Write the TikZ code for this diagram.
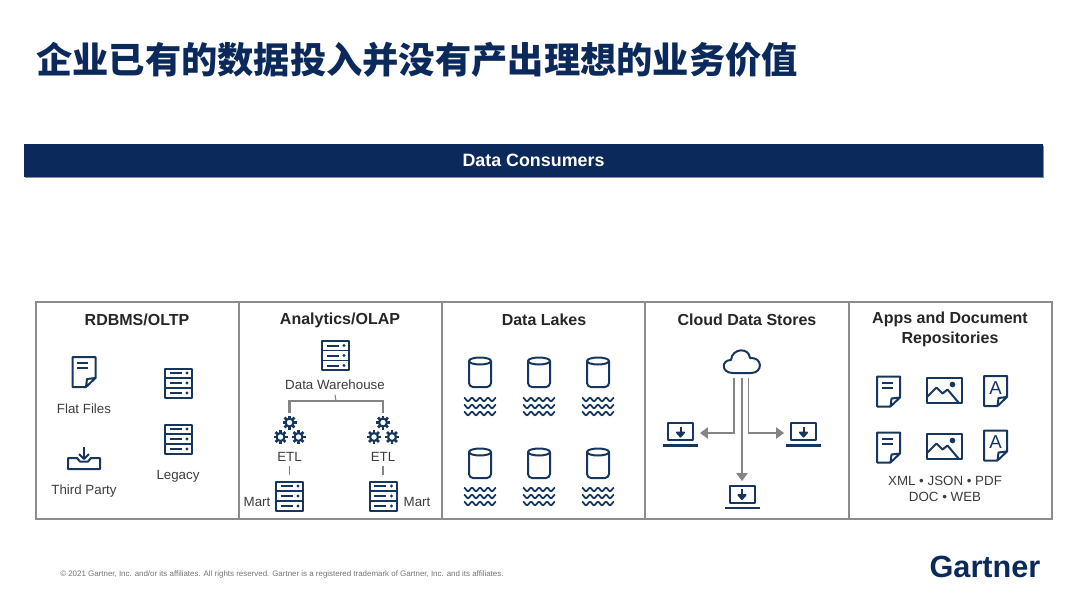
\documentclass[tikz,border=0pt]{standalone}
\usepackage{fontspec}
\setmainfont{Liberation Sans}
\newfontfamily\cjk{Noto Sans CJK SC}
\usetikzlibrary{arrows.meta}

\definecolor{navy}{HTML}{0B2A5B}
\definecolor{ink}{HTML}{17365F}
\definecolor{rim}{HTML}{8C8C8C}
\definecolor{wire}{HTML}{858585}
\definecolor{note}{HTML}{3C3C3C}

\tikzset{
  panel/.style={draw=rim, line width=1.3pt, minimum width=152.6pt, minimum height=162.75pt, inner sep=0pt},
  head/.style={font=\fontsize{12}{14.6}\selectfont\bfseries, text=black!85, align=center},
  lab/.style={font=\fontsize{10}{12}\selectfont, text=note, align=center},
  spot/.style={inner sep=0pt, minimum size=4pt},
  icon/.style={draw=ink, line width=1.5pt, line join=round},
  wireline/.style={draw=wire, line width=.8pt},
  feed/.style={draw=wire, line width=.9pt, -{Triangle[length=6pt,width=8.5pt]}},
  server/.pic={
    \draw[icon] (-13.5,-14.5) rectangle (13.5,14.5);
    \draw[icon, line width=1.3pt] (-13.5,-5) -- (13.5,-5);
    \draw[icon, line width=1.3pt] (-13.5,5) -- (13.5,5);
    \foreach \r in {-10,0,10} {
      \draw[icon] (-9,\r) -- (3,\r);
      \fill[ink] (8.5,\r) circle (1.7);
    }
  },
  docpage/.pic={
    \draw[icon] (2,15) -- (-11.5,15) -- (-11.5,-15) -- (11.5,-15) -- (11.5,6) -- (2,15) -- (3,7) -- (11.5,6);
  },
  docfile/.pic={
    \pic {docpage};
    \draw[icon] (-7,-9) -- (4,-9);
    \draw[icon] (-7,-4) -- (4,-4);
  },
  docfont/.pic={
    \pic {docpage};
    \node[font=\fontsize{14}{14}\selectfont, text=ink, inner sep=0pt] (glyph) at (0,-3) {A};
  },
  photo/.pic={
    \draw[icon] (-17.5,-12.5) rectangle (17.5,12.5);
    \draw[icon] (-17,6) -- (-8,-3) -- (-2,3) -- (3,-1) -- (14,12);
    \fill[ink] (8,-6) circle (2.8);
  },
  tray/.pic={
    \draw[icon] (-16,0) -- (-7,0) -- (-4,3.5) -- (4,3.5) -- (7,0) -- (16,0) -- (16,11) -- (-16,11) -- cycle;
    \draw[icon] (0,-11) -- (0,1);
    \draw[icon] (-5,-4) -- (0,1) -- (5,-4);
  },
  gearset/.pic={
    \foreach \gx/\gy in {0/-7.5, -9/7, 9/7} {
      \draw[icon, line width=1.6pt] (\gx,\gy) circle (4);
      \foreach \a in {0,45,...,315}
        \draw[icon, line width=2pt] ([shift={(\gx,\gy)}]\a:4.5) -- ([shift={(\gx,\gy)}]\a:7);
    }
  },
  barrel/.pic={
    \draw[icon] (0,-11) ellipse [x radius=11, y radius=3.5];
    \draw[icon, rounded corners=3pt] (-11,-11) -- (-11,15) -- (11,15) -- (11,-11);
  },
  waves/.pic={
    \foreach \w in {-7,0,7}
      \draw[icon, line width=1.3pt] plot[domain=-16:16, samples=49, smooth] (\x,{\w-1.7*cos(\x*45)});
  },
  cloudy/.pic={
    \draw[icon] (-9,11) .. controls (-21,11) and (-21,-2) .. (-11,-2)
      .. controls (-10,-14) and (7,-15) .. (8,-4)
      .. controls (21,-5) and (21,11) .. (9,11) -- cycle;
  },
  laptop/.pic={
    \draw[icon] (-12.5,-11.5) rectangle (12.5,5.5);
    \draw[icon, line width=1.9pt] (-17.5,11) -- (17.5,11);
    \draw[icon] (0,-8) -- (0,1);
    \draw[icon, fill=ink] (-3.5,-2) -- (0,2) -- (3.5,-2) -- cycle;
  },
}

\begin{document}
\begin{tikzpicture}[x=.75pt, y=-.75pt]
\useasboundingbox (0,0) rectangle (1080,596);

\node[font=\cjk\fontsize{27.2}{30}\selectfont\bfseries, text=navy, anchor=west, inner sep=0pt] (T) at (36,60) {企业已有的数据投入并没有产出理想的业务价值};

\fill[black!45] (25,146) rectangle (1044,178);
\node[fill=navy, minimum width=764.25pt, minimum height=24.75pt, inner sep=0pt, font=\fontsize{13.4}{16}\selectfont\bfseries, text=white] (B) at (533.5,160.5) {\raisebox{-.5pt}{Data Consumers}};

% panels
\node[panel] (P1) at (137.5,410.5) {};
\node[panel] (P2) at (340.5,410.5) {};
\node[panel] (P3) at (543.5,410.5) {};
\node[panel] (P4) at (747,410.5) {};
\node[panel] (P5) at (950.5,410.5) {};

\node[head] (H1) at (137,320) {RDBMS/OLTP};
\node[head] (H2) at (340,320) {Analytics/OLAP};
\node[head] (H3) at (544,320) {Data Lakes};
\node[head] (H4) at (747,320) {Cloud Data Stores};
\node[head] (H5) at (950,329.5) {Apps and Document\\Repositories};

% sources
\pic at (84,372) {docfile};
\pic at (178.5,383) {server};
\pic at (178.5,439) {server};
\pic at (84,458) {tray};
\node[lab] (L1) at (84,409) {Flat Files};
\node[lab] (L2) at (84,491.5) {Third Party};
\node[lab] (L3) at (178,476) {Legacy};

% warehouse
\pic at (335.5,355.5) {server};
\pic at (289.5,430) {gearset};
\pic at (383,430) {gearset};
\pic at (289.5,496) {server};
\pic at (383,496) {server};
\node[lab] (W) at (335,385) {Data Warehouse};
\node[lab] (E1) at (289.5,457) {ETL};
\node[lab] (E2) at (383,457) {ETL};
\node[lab] (M1) at (257,502) {Mart};
\node[lab] (M2) at (417,502) {Mart};
\node[spot] (G1) at (289.5,416) {};
\node[spot] (G2) at (383,416) {};
\node[spot] (S1) at (289.5,478) {};
\node[spot] (S2) at (383,478) {};
\coordinate (J) at (336,401);

\draw[wireline] (W.south) -- (J);
\draw[wireline, line width=1.8pt] (G1.north) |- (J) -| (G2.north);
\draw[wireline] (E1.south) -- (S1.north);
\draw[wireline] (E2.south) -- (S2.north);

% lakes
\foreach \cx in {480,539,598} {
  \pic at (\cx,372) {barrel};
  \pic at (\cx,406.5) {waves};
  \pic at (\cx,463) {barrel};
  \pic at (\cx,496.5) {waves};
}

% cloud
\pic at (742,362) {cloudy};
\pic at (680.5,434.5) {laptop};
\pic at (803.5,434.5) {laptop};
\pic at (742,497) {laptop};
\node[spot] (C) at (742,375) {};
\node[spot] (N1) at (697,433) {};
\node[spot] (N2) at (787,433) {};
\node[spot] (N3) at (742,484) {};

\draw[feed] ([xshift=-6pt]C.south) |- (N1.east);
\draw[feed] ([xshift=5pt]C.south) |- (N2.west);
\draw[feed] (C.south) -- (N3.north);

% documents
\pic at (888.5,391.5) {docfile};
\pic at (888.5,447.5) {docfile};
\pic at (944.5,390.5) {photo};
\pic at (944.5,446.5) {photo};
\pic at (995.5,391) {docfont};
\pic at (995.5,445.5) {docfont};
\node[lab] (D) at (945,489) {XML • JSON • PDF\\DOC • WEB};

\node[font=\fontsize{5.95}{7}\selectfont, text=black!55, anchor=west, inner sep=0pt] (F) at (60,574) {© 2021 Gartner, Inc. and/or its affiliates. All rights reserved. Gartner is a registered trademark of Gartner, Inc. and its affiliates.};
\node[font=\fontsize{23}{24}\selectfont\bfseries, text=navy, inner sep=0pt] (G) at (985,567) {Gartner};
\end{tikzpicture}
\end{document}
